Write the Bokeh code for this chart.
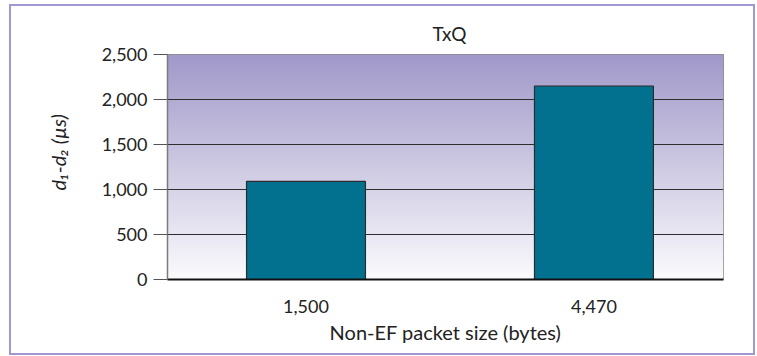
import numpy as np
from bokeh.plotting import figure
from bokeh.models import Range1d, FixedTicker, NumeralTickFormatter, Title
from bokeh.embed import file_html
from bokeh.resources import INLINE

# ---- data ----
packet_sizes = ["1,500", "4,470"]
delay_diff = [1090, 2150]
y_ticks = [0, 500, 1000, 1500, 2000, 2500]
title_text = "TxQ"
x_label = "Non-EF packet size (bytes)"
y_label = "d₁-d₂ (µs)"

x_idx = list(range(len(packet_sizes)))
FONT = "Lato"
TXT = "#222222"

W, H = 742, 347
p = figure(width=W, height=H, output_backend="svg", toolbar_location=None,
           x_range=Range1d(-0.481, 1.45), y_range=Range1d(0, 2500),
           min_border_left=156, min_border_right=30, min_border_top=48,
           min_border_bottom=74)
p.frame_width = 556
p.frame_height = 225
p.styles = {"border": "2px solid #a098d0", "margin-left": "9px", "margin-top": "4px"}
p.background_fill_color = "white"
p.border_fill_color = "white"
p.outline_line_color = "#8a8a8a"
p.outline_line_width = 1

# title
p.title.text = title_text
p.title.align = "left"
p.title.offset = 265
p.title.standoff = 20
p.title.text_font = FONT
p.title.text_font_size = "19px"
p.title.text_font_style = "normal"
p.title.text_color = TXT

# gradient background (style only)
N = 200
t = np.linspace(0, 1, N)[:, None]
bot = np.array([251, 251, 253])
top = np.array([161, 153, 201])
cols = (bot + (top - bot) * t).astype(np.uint32)
img = np.zeros((N, 1), dtype=np.uint32)
view = img.view(dtype=np.uint8).reshape((N, 1, 4))
view[:, :, 0] = cols[:, 0:1]
view[:, :, 1] = cols[:, 1:2]
view[:, :, 2] = cols[:, 2:3]
view[:, :, 3] = 255
bg = p.image_rgba(image=[img], x=p.x_range.start, y=0,
                  dw=p.x_range.end - p.x_range.start, dh=2500)
bg.level = "image"

p.vbar(x=x_idx, top=delay_diff, width=0.413, bottom=0,
       fill_color="#02718f", line_color="#2b2b2b", line_width=1.2)

# grid
p.xgrid.visible = False
p.ygrid.ticker = FixedTicker(ticks=y_ticks)
p.ygrid.grid_line_color = "#2e2e2e"
p.ygrid.grid_line_width = 1

# y axis
ya = p.yaxis[0]
ya.ticker = FixedTicker(ticks=y_ticks)
ya.formatter = NumeralTickFormatter(format="0,0")
ya.major_tick_out = 14
ya.major_tick_in = 0
ya.minor_tick_line_color = None
ya.major_tick_line_color = "#555555"
ya.axis_line_color = "#7a7a7a"
ya.axis_line_width = 1.5
ya.major_label_text_font = FONT
ya.major_label_text_font_size = "18px"
ya.major_label_text_color = TXT
ya.major_label_standoff = 6

# y label as a side title (allows offset along the axis)
p.add_layout(Title(text=y_label, align="left", offset=89, standoff=58,
                   text_font=FONT, text_font_size="20px", text_font_style="italic",
                   text_color=TXT), "left")

# x axis
xa = p.xaxis[0]
xa.ticker = FixedTicker(ticks=x_idx)
xa.major_label_overrides = {i: s for i, s in zip(x_idx, packet_sizes)}
xa.major_tick_out = 0
xa.major_tick_in = 0
xa.minor_tick_line_color = None
xa.axis_line_color = "#111111"
xa.axis_line_width = 2
xa.major_label_text_font = FONT
xa.major_label_text_font_size = "18px"
xa.major_label_text_color = TXT
xa.major_label_standoff = 20
xa.axis_label = x_label
xa.axis_label_text_font = FONT
xa.axis_label_text_font_style = "normal"
xa.axis_label_text_font_size = "20px"
xa.axis_label_text_color = TXT
xa.axis_label_standoff = 4

open("out.html", "w").write(file_html(p, INLINE))
